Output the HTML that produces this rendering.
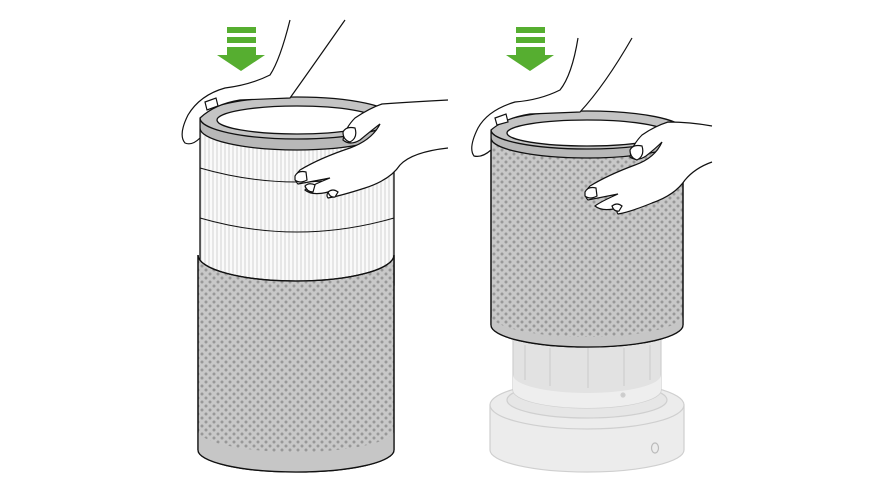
<!DOCTYPE html>
<html><head><style>html,body{margin:0;padding:0;background:#fff}svg{display:block}</style></head>
<body>
<svg width="890" height="494" viewBox="0 0 890 494" xmlns="http://www.w3.org/2000/svg">
<defs>
<pattern id="dots" width="8" height="8" patternUnits="userSpaceOnUse">
<rect width="8" height="8" fill="#c8c8c8"/>
<circle cx="2" cy="2" r="1.5" fill="#989898"/>
<circle cx="6" cy="6" r="1.5" fill="#989898"/>
</pattern>
<pattern id="pleat" width="4" height="10" patternUnits="userSpaceOnUse">
<rect width="4" height="10" fill="#fafafa"/>
<line x1="1" y1="0" x2="1" y2="10" stroke="#c8c8c8" stroke-width="0.8"/>
</pattern>
</defs>

<!-- LEFT -->
<g stroke="#111" stroke-width="1.3">
<path d="M200 125 L200 285 L394 285 L394 125 Z" fill="url(#pleat)"/>
<path d="M200 168 Q297 196 394 168" fill="none" stroke-width="1"/>
<path d="M200 218 Q297 246 394 218" fill="none" stroke-width="1"/>
<path d="M198 255 A98 26 0 0 0 394 255 L394 450 A98 22 0 0 1 198 450 Z" fill="url(#dots)"/>
<path d="M198 430 A98 22 0 0 0 394 430 L394 450 A98 22 0 0 1 198 450 Z" fill="#c6c6c6" stroke="none"/>
<path d="M198 255 A98 26 0 0 0 394 255 L394 450 A98 22 0 0 1 198 450 Z" fill="none"/>
<path d="M200 118 L200 128 A97 22 0 0 0 394 128 L394 118" fill="#b8b8b8"/>
<ellipse cx="297" cy="118" rx="97" ry="21" fill="#c4c4c4"/>
<ellipse cx="297" cy="120" rx="80" ry="14" fill="#fff"/>
</g>
<g stroke="#111" stroke-width="1.2" fill="#fff">
<path d="M290 20 Q280 60 270 75 Q250 85 225 88 Q200 95 188 115 Q178 135 185 143 Q192 146 200 138 L200 118 Q215 104 240 100 L290 98 Q310 70 345 20" fill="#fff"/>
<path d="M205 102 L216 98 L218 106 L207 110 Z"/>
<path d="M448 100 Q410 102 382 104 Q370 108 355 118 Q345 128 343 140 Q350 146 360 140 Q372 130 380 124 Q372 140 350 148 Q320 158 300 170 Q292 178 298 184 Q320 180 330 178 Q310 186 305 190 Q312 196 328 192 Q326 196 328 198 Q340 196 365 188 Q390 180 400 165 Q412 152 448 148"/>
<path d="M343 132 Q346 126 355 128 Q358 138 350 142 Q343 140 343 132 Z"/>
<path d="M295 176 Q298 170 306 172 L307 180 Q300 184 295 180 Z"/>
<path d="M305 186 Q309 182 315 185 L313 192 Q307 192 305 186 Z"/>
<path d="M328 192 Q333 188 338 192 L335 197 Q330 198 328 192 Z"/>
</g>
<g fill="#56ae30">
<rect x="227" y="27" width="29" height="6"/>
<rect x="227" y="37" width="29" height="6"/>
<path d="M227 47 H256 V55 H265 L241 71 L217 55 H227 Z"/>
</g>

<!-- RIGHT base -->
<g stroke="#cfcfcf" stroke-width="1.2">
<path d="M490 405 L490 450 A97 22 0 0 0 684 450 L684 405 Z" fill="#ececec"/>
<ellipse cx="587" cy="405" rx="97" ry="24" fill="#ececec"/>
<ellipse cx="587" cy="400" rx="80" ry="18" fill="#e6e6e6"/>
<path d="M513 335 L513 390 A74 18 0 0 0 661 390 L661 335 Z" fill="#e2e2e2"/>
<path d="M513 375 A74 18 0 0 0 661 375 L661 390 A74 18 0 0 1 513 390 Z" fill="#eeeeee" stroke="none"/>
<line x1="525" y1="345" x2="525" y2="380"/><line x1="550" y1="348" x2="550" y2="386"/>
<line x1="588" y1="348" x2="588" y2="388"/><line x1="624" y1="348" x2="624" y2="386"/><line x1="650" y1="345" x2="650" y2="380"/>
<circle cx="623" cy="395" r="2" fill="#ccc"/>
<ellipse cx="655" cy="448" rx="3.5" ry="5" fill="none" stroke="#bbb"/>
</g>
<g stroke="#111" stroke-width="1.3">
<path d="M491 135 L491 325 A96 22 0 0 0 683 325 L683 135 Z" fill="url(#dots)"/>
<path d="M491 315 A96 22 0 0 0 683 315 L683 325 A96 22 0 0 1 491 325 Z" fill="#c6c6c6" stroke="none"/>
<path d="M491 135 L491 325 A96 22 0 0 0 683 325 L683 135" fill="none"/>
<path d="M491 128 L491 138 A96 20 0 0 0 683 138 L683 128" fill="#b8b8b8"/>
<ellipse cx="587" cy="130" rx="96" ry="19" fill="#c4c4c4"/>
<ellipse cx="587" cy="133" rx="80" ry="13" fill="#fff"/>
</g>
<g stroke="#111" stroke-width="1.2" fill="#fff">
<path d="M578 38 Q572 75 560 90 Q540 100 515 102 Q488 110 478 128 Q468 148 474 156 Q482 158 491 150 L491 130 Q505 118 530 114 L580 112 Q605 85 632 38"/>
<path d="M495 118 L506 114 L508 122 L497 125 Z"/>
<path d="M712 126 Q690 122 668 122 Q655 126 642 135 Q632 145 630 157 Q637 162 646 156 Q656 148 662 142 Q655 158 635 165 Q608 175 590 186 Q582 194 588 200 Q608 196 618 194 Q600 202 595 206 Q602 212 618 208 Q616 212 618 214 Q630 212 652 203 Q675 195 685 180 Q695 168 712 162"/>
<path d="M630 150 Q633 144 642 146 Q645 156 637 160 Q630 158 630 150 Z"/>
<path d="M585 192 Q588 186 596 188 L597 196 Q590 200 585 196 Z"/>
<path d="M612 206 Q617 202 622 206 L619 211 Q614 212 612 206 Z"/>
</g>
<g fill="#56ae30">
<rect x="516" y="27" width="29" height="6"/>
<rect x="516" y="37" width="29" height="6"/>
<path d="M516 47 H545 V55 H554 L530 71 L506 55 H516 Z"/>
</g>
</svg>
</body></html>
